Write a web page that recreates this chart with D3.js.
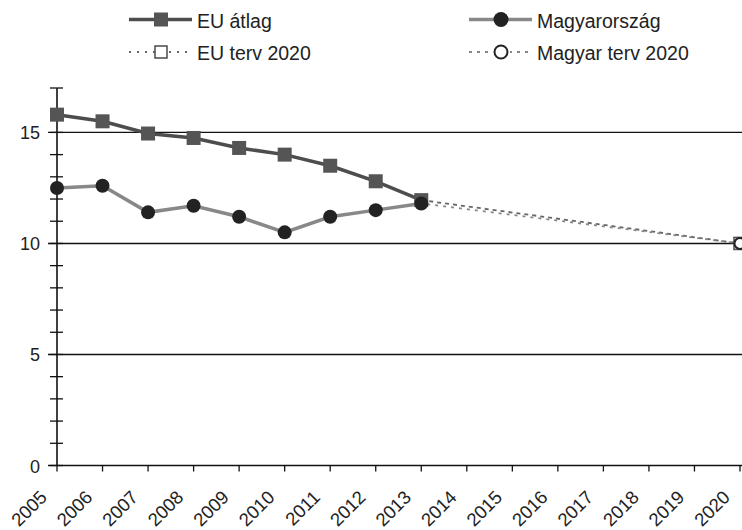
<!DOCTYPE html>
<html><head><meta charset="utf-8">
<script src="https://cdn.jsdelivr.net/npm/d3@7"></script>
<style>body{margin:0;background:#fff}svg{display:block;font-family:"Liberation Sans",Arial,sans-serif}</style>
</head><body><svg id="c" width="742" height="530"></svg>
<script>
const years = [2005,2006,2007,2008,2009,2010,2011,2012,2013,2014,2015,2016,2017,2018,2019,2020];
const euYears = [2005,2006,2007,2008,2009,2010,2011,2012,2013];
const euValues = [15.8,15.5,14.95,14.75,14.3,14.0,13.5,12.8,11.95];
const huValues = [12.5,12.6,11.4,11.7,11.2,10.5,11.2,11.5,11.8];
const planYears = [2013,2020];
const euPlan = [11.95,10];
const huPlan = [11.8,10];
const yMajor = [0,5,10,15];
const yMinor = d3.range(0,18,1);

const svg = d3.select("#c");
const x = d3.scaleLinear().domain([2005,2020]).range([57,740]);
const y = d3.scaleLinear().domain([0,17]).range([465.5,88]);

// gridlines
svg.append("g").selectAll("line").data(yMajor.filter(v=>v>0)).join("line")
  .attr("x1",48).attr("x2",742).attr("y1",d=>y(d)).attr("y2",d=>y(d))
  .attr("stroke","#111").attr("stroke-width",1.4);

// y axis
svg.append("line").attr("x1",57).attr("x2",57).attr("y1",y(17)).attr("y2",y(0)).attr("stroke","#111").attr("stroke-width",1.6);
svg.append("g").selectAll("line").data(yMinor).join("line")
  .attr("x1",50).attr("x2",63).attr("y1",d=>y(d)).attr("y2",d=>y(d)).attr("stroke","#111").attr("stroke-width",1.3);
svg.append("g").selectAll("text").data(yMajor).join("text")
  .attr("x",40).attr("y",d=>y(d)+7).attr("text-anchor","end").attr("font-size",18).attr("fill","#222").text(d=>d);

// x axis
svg.append("line").attr("x1",48).attr("x2",742).attr("y1",y(0)).attr("y2",y(0)).attr("stroke","#111").attr("stroke-width",1.6);
svg.append("g").selectAll("line").data(years).join("line")
  .attr("x1",d=>x(d)).attr("x2",d=>x(d)).attr("y1",y(0)).attr("y2",y(0)+6).attr("stroke","#111").attr("stroke-width",1.3);
svg.append("g").selectAll("text").data(years).join("text")
  .attr("text-anchor","end").attr("font-size",18.5).attr("fill","#222")
  .attr("transform",d=>`translate(${x(d)-9},${y(0)+33}) rotate(-45)`).text(d=>d);

const line = d3.line().x(d=>x(d[0])).y(d=>y(d[1]));

// plan lines
svg.append("path").datum(planYears.map((t,i)=>[t,euPlan[i]])).attr("d",line)
  .attr("fill","none").attr("stroke","#666").attr("stroke-width",1.8).attr("stroke-dasharray","4,4");
svg.append("path").datum(planYears.map((t,i)=>[t,huPlan[i]])).attr("d",line)
  .attr("fill","none").attr("stroke","#888").attr("stroke-width",1.8).attr("stroke-dasharray","3,5").attr("stroke-dashoffset",2);

// EU line
svg.append("path").datum(euYears.map((t,i)=>[t,euValues[i]])).attr("d",line)
  .attr("fill","none").attr("stroke","#4d4d4d").attr("stroke-width",3.5);
svg.append("g").selectAll("rect").data(euYears.map((t,i)=>[t,euValues[i]])).join("rect")
  .attr("x",d=>x(d[0])-7).attr("y",d=>y(d[1])-7).attr("width",14).attr("height",14).attr("fill","#555");

// HU line
svg.append("path").datum(euYears.map((t,i)=>[t,huValues[i]])).attr("d",line)
  .attr("fill","none").attr("stroke","#888").attr("stroke-width",3.5);
svg.append("g").selectAll("circle").data(euYears.map((t,i)=>[t,huValues[i]])).join("circle")
  .attr("cx",d=>x(d[0])).attr("cy",d=>y(d[1])).attr("r",7).attr("fill","#222");

// plan end markers
svg.append("rect").attr("x",x(2020)-6).attr("y",y(euPlan[1])-6).attr("width",12).attr("height",12)
  .attr("fill","#fff").attr("stroke","#555").attr("stroke-width",1.6);
svg.append("circle").attr("cx",x(2020)).attr("cy",y(huPlan[1])).attr("r",5.5).attr("fill","none").attr("stroke","#222").attr("stroke-width",2);

// legend
const leg = svg.append("g").attr("font-size",19.5).attr("fill","#222");
function legItem(x0, yy, label, kind){
  const g = leg.append("g");
  const mid = x0 + 32;
  if(kind==="eu"){
    g.append("line").attr("x1",x0).attr("x2",x0+63).attr("y1",yy).attr("y2",yy).attr("stroke","#4d4d4d").attr("stroke-width",3.5);
    g.append("rect").attr("x",mid-7).attr("y",yy-7).attr("width",14).attr("height",14).attr("fill","#555");
  } else if(kind==="hu"){
    g.append("line").attr("x1",x0).attr("x2",x0+63).attr("y1",yy).attr("y2",yy).attr("stroke","#888").attr("stroke-width",3.5);
    g.append("circle").attr("cx",mid).attr("cy",yy).attr("r",7.5).attr("fill","#222");
  } else if(kind==="eup"){
    g.append("line").attr("x1",x0).attr("x2",x0+63).attr("y1",yy).attr("y2",yy).attr("stroke","#666").attr("stroke-width",1.8).attr("stroke-dasharray","2,6");
    g.append("rect").attr("x",mid-6).attr("y",yy-6).attr("width",12).attr("height",12).attr("fill","#fff").attr("stroke","#555").attr("stroke-width",1.6);
  } else {
    g.append("line").attr("x1",x0).attr("x2",x0+63).attr("y1",yy).attr("y2",yy).attr("stroke","#888").attr("stroke-width",1.8).attr("stroke-dasharray","3,5");
    g.append("rect").attr("x",mid-9).attr("y",yy-8).attr("width",18).attr("height",16).attr("fill","#fff");
    g.append("circle").attr("cx",mid).attr("cy",yy).attr("r",6.5).attr("fill","#fff").attr("stroke","#222").attr("stroke-width",2);
  }
  g.append("text").attr("x",x0+68).attr("y",yy+8).text(label);
}
legItem(129,19.5,"EU átlag","eu");
legItem(469,19.5,"Magyarország","hu");
legItem(129,52,"EU terv 2020","eup");
legItem(469,52,"Magyar terv 2020","hup");
</script></body></html>
